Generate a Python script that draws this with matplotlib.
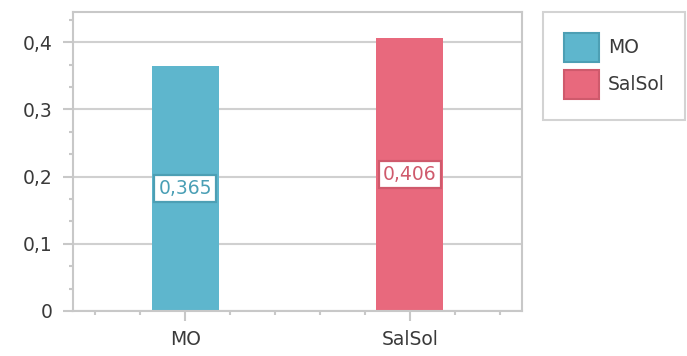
import matplotlib
matplotlib.use("Agg")
import matplotlib.pyplot as plt
from matplotlib.ticker import MultipleLocator, FixedLocator, FuncFormatter
from matplotlib.patches import Patch

categories = ["MO", "SalSol"]
values = [0.365, 0.406]
bar_colors = ["#5eb6cd", "#e8697d"]
edge_colors = ["#4d9fb4", "#cf5a6c"]
label_colors = ["#4a9fb5", "#cf5a6c"]

grey = "#c8c8c8"
text_color = "#3a3a3a"
fs = 13.5

fig = plt.figure(figsize=(6.87, 3.56), dpi=100)
ax = fig.add_axes([73 / 687, 1 - 311 / 356, (522 - 73) / 687, (311 - 12) / 356])

x = list(range(len(categories)))
ax.bar(x, values, width=0.3, color=bar_colors, zorder=2)

for xi, v, ec, tc in zip(x, values, edge_colors, label_colors):
    ax.text(xi, v / 2, f"{v:.3f}".replace(".", ","), ha="center", va="center",
            fontsize=fs, color=tc, zorder=3,
            bbox=dict(boxstyle="square,pad=0.22", fc="white", ec=ec, lw=1.6))

ax.set_xlim(-0.5, 1.5)
ax.set_ylim(0, 0.445)

ax.yaxis.set_major_locator(MultipleLocator(0.1))
ax.yaxis.set_minor_locator(MultipleLocator(0.1 / 3))
ax.yaxis.set_major_formatter(FuncFormatter(
    lambda v, p: "0" if abs(v) < 1e-9 else f"{v:.1f}".replace(".", ",")))

ax.xaxis.set_major_locator(FixedLocator(x))
ax.xaxis.set_minor_locator(FixedLocator([-0.4, -0.2, 0.2, 0.4, 0.6, 0.8, 1.2, 1.4]))
ax.set_xticklabels(categories)

ax.grid(axis="y", which="major", color="#d0d0d0", lw=1.5, zorder=0)
for s in ax.spines.values():
    s.set_color(grey)
    s.set_linewidth(1.5)

ax.tick_params(axis="both", which="major", length=7.5, width=1.5, color=grey,
               labelsize=fs, labelcolor=text_color)
ax.tick_params(axis="both", which="minor", length=3, width=1.5, color=grey)
ax.tick_params(axis="y", which="major", pad=7)
ax.tick_params(axis="x", which="major", pad=6)

handles = [Patch(facecolor=c, edgecolor=e, lw=1.5, label=n)
           for c, e, n in zip(bar_colors, edge_colors, categories)]
leg = fig.legend(handles=handles, loc="upper left",
                 bbox_to_anchor=(543 / 687, 1 - 12 / 356),
                 fontsize=fs, frameon=True, fancybox=False,
                 handlelength=1.9, handleheight=2.0, handletextpad=0.45,
                 labelspacing=0.45, borderpad=1.1, borderaxespad=0,
                 labelcolor=text_color)
leg.get_frame().set_edgecolor(grey)
leg.get_frame().set_linewidth(1.5)

fig.savefig("out.png", dpi=100)
